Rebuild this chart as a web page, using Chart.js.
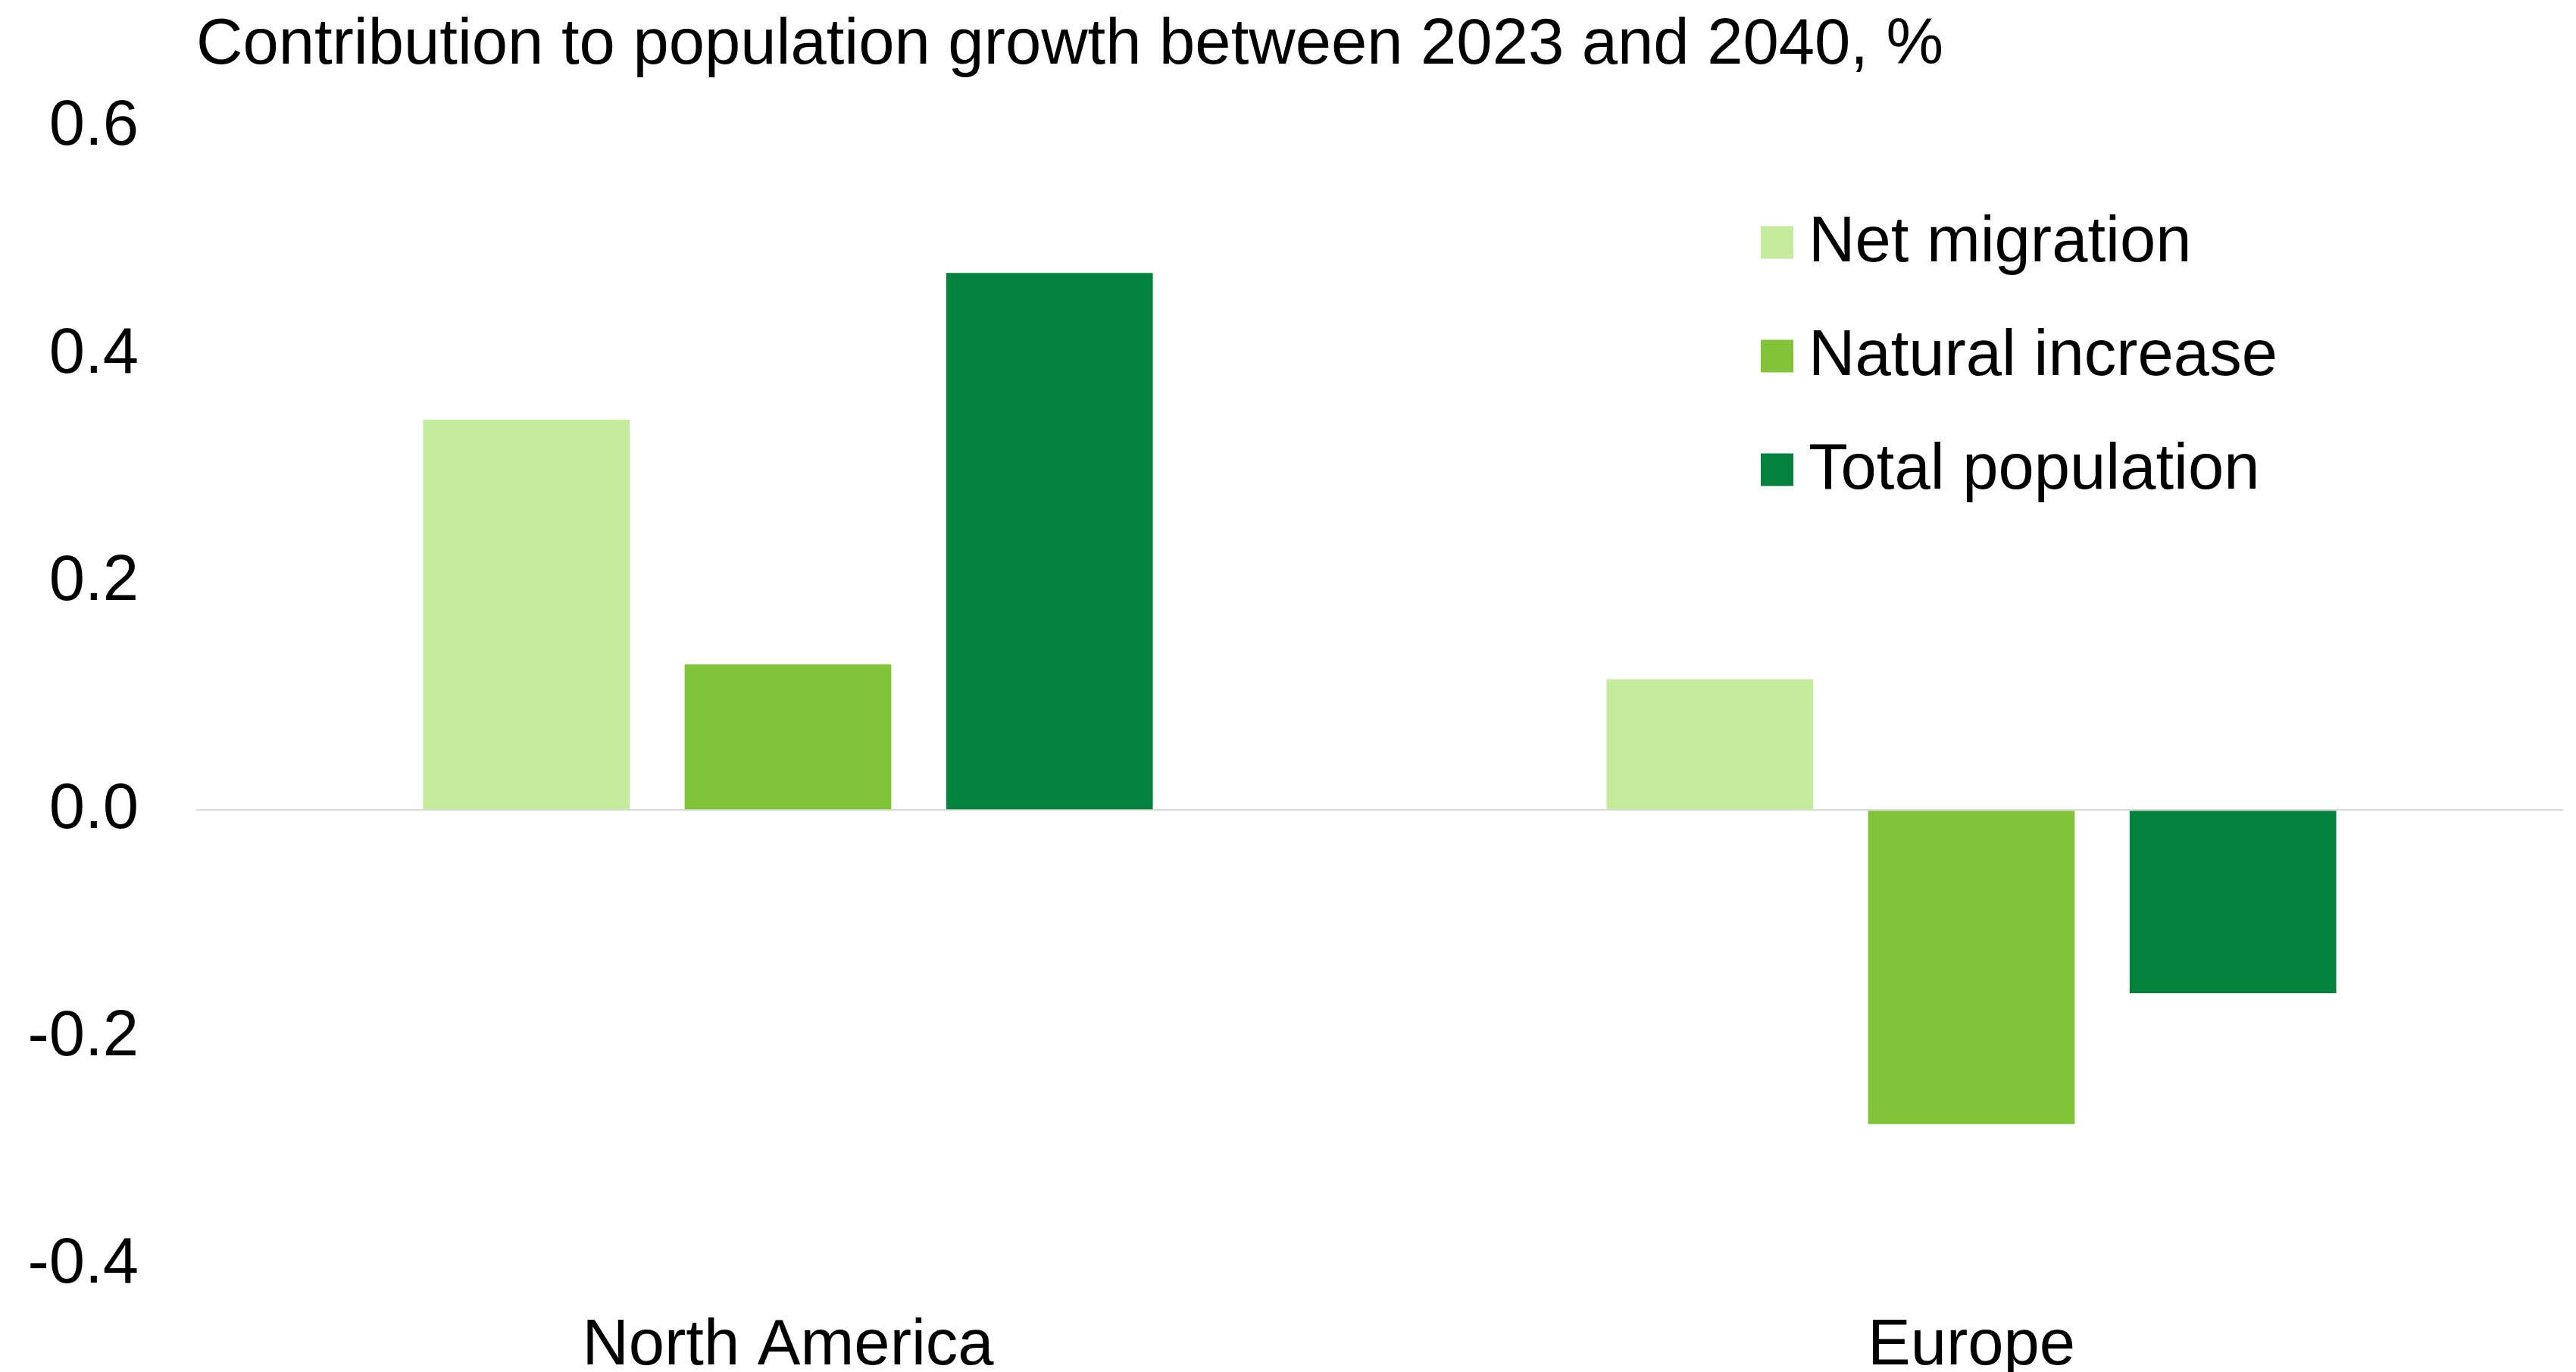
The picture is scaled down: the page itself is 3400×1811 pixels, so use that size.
<!DOCTYPE html>
<html>
<head>
<meta charset="utf-8">
<title>Contribution to population growth</title>
<script src="https://cdn.jsdelivr.net/npm/chart.js@4/dist/chart.umd.min.js"></script>
<style>
  html, body { margin: 0; padding: 0; background: #ffffff; }
  #wrap { width: 3400px; height: 1811px; position: relative; }
</style>
</head>
<body>
<div id="wrap"><canvas id="chart" width="3400" height="1811"></canvas></div>
<script>
// Regions on the category axis
const regions = ['North America', 'Europe'];

// Contribution to population growth 2023-2040, %
const netMigration = [0.343, 0.115];
const naturalIncrease = [0.128, -0.276];
const totalPopulation = [0.472, -0.161];

const seriesNames = ['Net migration', 'Natural increase', 'Total population'];
const seriesColors = ['#C5EB9C', '#82C437', '#03823D'];

// Value axis
const yMin = -0.4;
const yMax = 0.6;
const yStep = 0.2;

const chartTitle = 'Contribution to population growth between 2023 and 2040, %';

const FONT = '"Liberation Sans", Arial, Helvetica, sans-serif';
const FONT_SIZE = 85;

// Vertical legend drawn inside the plot, top right
const insideLegend = {
  id: 'insideLegend',
  afterDraw(chart) {
    const ctx = chart.ctx;
    const area = chart.chartArea;
    const box = 43;
    const rowGap = 150;
    const x0 = area.left + 2065;
    const y0 = area.top + 154;
    ctx.save();
    ctx.font = FONT_SIZE + 'px ' + FONT;
    ctx.textBaseline = 'middle';
    ctx.textAlign = 'left';
    chart.data.datasets.forEach((ds, i) => {
      const cy = y0 + i * rowGap;
      ctx.fillStyle = ds.backgroundColor;
      ctx.fillRect(x0, cy - box / 2 - 2, box, box);
      ctx.fillStyle = '#000000';
      ctx.fillText(ds.label, x0 + 63, cy);
    });
    ctx.restore();
  }
};

const seriesData = [netMigration, naturalIncrease, totalPopulation];

new Chart(document.getElementById('chart'), {
  type: 'bar',
  data: {
    labels: regions,
    datasets: seriesNames.map((name, i) => ({
      label: name,
      data: seriesData[i],
      backgroundColor: seriesColors[i],
      borderWidth: 0,
      categoryPercentage: 0.663,
      barPercentage: 0.79
    }))
  },
  options: {
    responsive: false,
    animation: false,
    devicePixelRatio: 1,
    layout: { padding: { left: 0, right: 17, top: 0, bottom: 0 } },
    plugins: {
      legend: { display: false },
      tooltip: { enabled: false },
      title: {
        display: true,
        text: chartTitle,
        align: 'start',
        fullSize: false,
        color: '#000000',
        font: { family: FONT, size: FONT_SIZE, weight: 'normal', lineHeight: 1.2 },
        padding: { top: 10, bottom: 56 }
      }
    },
    scales: {
      x: {
        grid: { display: false, drawTicks: false },
        border: { display: false },
        ticks: {
          color: '#000000',
          font: { family: FONT, size: FONT_SIZE, lineHeight: 1.2 },
          padding: 57,
          maxRotation: 0,
          autoSkip: false
        },
        afterFit(scale) { scale.height = 141; }
      },
      y: {
        min: yMin,
        max: yMax,
        grid: {
          drawTicks: false,
          tickLength: 0,
          lineWidth: 2,
          color: (c) => (c.tick && c.tick.value === 0 ? '#D9D9D9' : 'rgba(0,0,0,0)')
        },
        border: { display: false },
        ticks: {
          stepSize: yStep,
          color: '#000000',
          font: { family: FONT, size: FONT_SIZE, lineHeight: 1.2 },
          padding: 76,
          callback: (v) => Number(v).toFixed(1)
        },
        afterFit(scale) { scale.width = 259; }
      }
    }
  },
  plugins: [insideLegend]
});
</script>
</body>
</html>
